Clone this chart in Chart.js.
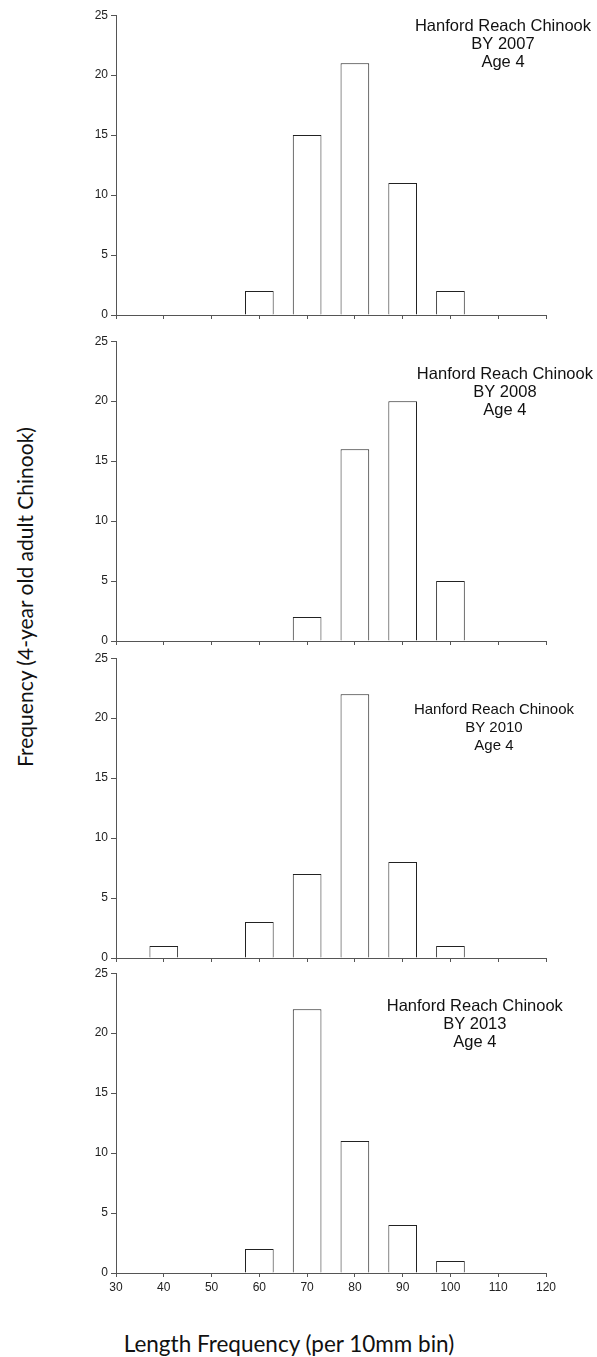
<!DOCTYPE html>
<html>
<head>
<meta charset="utf-8">
<script src="https://cdn.jsdelivr.net/npm/chart.js@4.4.1/dist/chart.umd.min.js"></script>
<style>
  body { margin: 0; background: #fff; }
  #page { position: relative; width: 597px; height: 1357px; overflow: hidden; }
  .panel { position: absolute; left: 0; }
  .ytitle {
    position: absolute; left: 24px; top: 597px;
    transform: translate(-50%, -50%) rotate(-90deg);
    white-space: nowrap; font: 21px Lato, "Open Sans", sans-serif; color: #111;
  }
  .xtitle {
    position: absolute; left: 289px; top: 1343px;
    transform: translate(-50%, -50%);
    white-space: nowrap; font: 22.5px Lato, "Open Sans", sans-serif; color: #111;
  }
</style>
</head>
<body>
<div id="page">
  <div class="ytitle">Frequency (4-year old adult Chinook)</div>
  <div class="xtitle">Length Frequency (per 10mm bin)</div>
</div>
<script>
// length bins and counts per brood year
const bins = [40, 50, 60, 70, 80, 90, 100, 110];
const freq2007 = [0, 0, 2, 15, 21, 11, 2, 0];
const freq2008 = [0, 0, 0, 2, 16, 20, 5, 0];
const freq2010 = [1, 0, 3, 7, 22, 8, 1, 0];
const freq2013 = [0, 0, 2, 22, 11, 4, 1, 0];
const broodYears = ['BY 2007', 'BY 2008', 'BY 2010', 'BY 2013'];
const xMin = 30, xMax = 120, xStep = 10;
const yMin = 0, yMax = 25, yStep = 5;

// layout
const panelTops = [15, 341, 658, 973];
const notePos = [[111.0, 24.1], [111.4, 22.25], [109.1, 20.7], [105.1, 22.2]];
const noteSize = [16.5, 16.5, 15, 16.5];

const allFreq = [freq2007, freq2008, freq2010, freq2013];
const axisColor = '#555';
const tickFont = { family: '"Liberation Sans", Arial, sans-serif', size: 12 };

const notePlugin = {
  id: 'note',
  afterDraw(chart, args, opts) {
    const { ctx, scales } = chart;
    const x = scales.x.getPixelForValue(opts.x);
    const y = scales.y.getPixelForValue(opts.y);
    ctx.save();
    ctx.font = opts.size + 'px "Liberation Sans", Arial, sans-serif';
    ctx.fillStyle = '#111';
    ctx.textAlign = 'center';
    ctx.textBaseline = 'middle';
    opts.lines.forEach((t, i) => ctx.fillText(t, x, y + i * 18));
    ctx.restore();
  }
};

allFreq.forEach((freq, i) => {
  const wrap = document.createElement('div');
  wrap.className = 'panel';
  wrap.style.top = (panelTops[i] - 10) + 'px';
  const canvas = document.createElement('canvas');
  canvas.width = 597;
  canvas.height = 340;
  wrap.appendChild(canvas);
  document.getElementById('page').appendChild(wrap);
  const last = i === allFreq.length - 1;

  new Chart(canvas.getContext('2d'), {
    type: 'bar',
    data: {
      datasets: [{
        data: bins.map((b, k) => ({ x: b, y: freq[k] })),
        backgroundColor: '#fff',
        borderColor: '#222',
        borderWidth: 1,
        categoryPercentage: 0.6,
        barPercentage: 1.0,
      }]
    },
    options: {
      responsive: false,
      animation: false,
      events: [],
      layout: { padding: { top: 10, right: 51, left: 0, bottom: 0 } },
      plugins: {
        legend: { display: false },
        tooltip: { enabled: false },
        note: { x: notePos[i][0], y: notePos[i][1], size: noteSize[i], lines: ['Hanford Reach Chinook', broodYears[i], 'Age 4'] }
      },
      scales: {
        x: {
          type: 'linear',
          min: xMin, max: xMax,
          offset: false,
          grid: { display: true, offset: false, drawOnChartArea: false, drawTicks: true, tickLength: 4, color: axisColor },
          border: { display: true, color: axisColor, width: 1 },
          ticks: { display: last, stepSize: xStep, color: '#222', font: tickFont, padding: 3, maxRotation: 0 },
          afterFit: s => { s.height = 30; }
        },
        y: {
          min: yMin, max: yMax,
          grid: { display: true, drawOnChartArea: false, drawTicks: true, tickLength: 5, color: axisColor },
          border: { display: true, color: axisColor, width: 1 },
          ticks: { stepSize: yStep, color: '#222', font: tickFont, padding: 3 },
          afterFit: s => { s.width = 116; }
        }
      }
    },
    plugins: [notePlugin]
  });
});
</script>
</body>
</html>
